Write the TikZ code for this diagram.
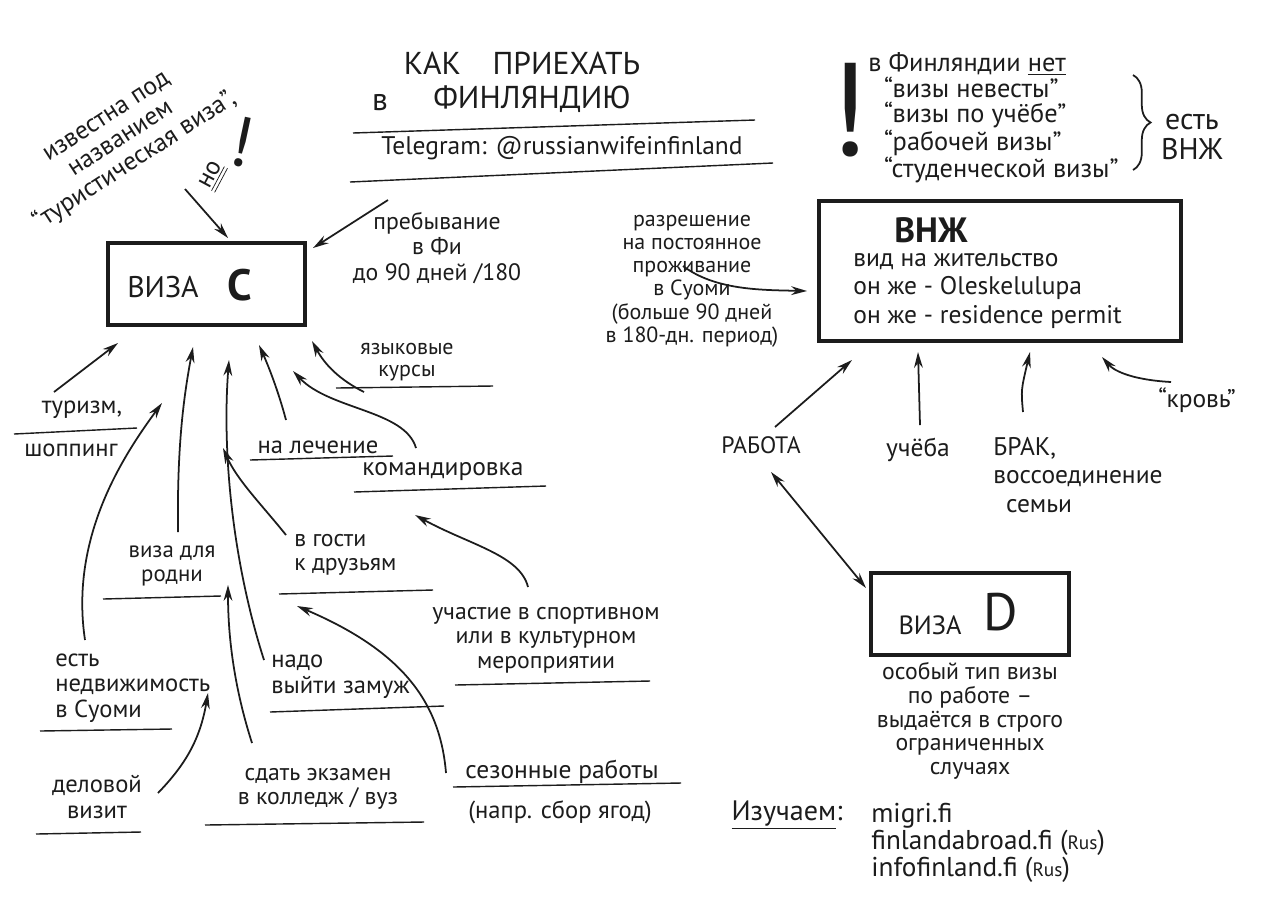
\documentclass[tikz,border=0pt]{standalone}
\usepackage{fontspec}
\setmainfont{PT Sans}
\usetikzlibrary{arrows.meta,decorations.pathreplacing}
\definecolor{ink}{RGB}{28,28,28}
\newcommand\fhand{\fontsize{14}{15.5}\selectfont}
\newcommand\fmid{\fontsize{14.5}{16}\selectfont}
\newcommand\ftop{\fontsize{15}{14.5}\selectfont}
\newcommand\ftitle{\fontsize{18}{20}\selectfont}
\newcommand\fvbox{\fontsize{17}{17}\selectfont}
\newcommand\fbig{\fontsize{25}{25}\selectfont\bfseries}
\begin{document}
\begin{tikzpicture}[x=0.02cm,y=-0.02cm,
  txt/.style={inner sep=0pt, align=center, font=\fhand, text=ink},
  ul/.style={line width=0.8pt, draw=ink},
  arr/.style={line width=1pt, draw=ink, -{Stealth[length=9pt,width=5pt]}},
  dbl/.style={line width=1pt, draw=ink, {Stealth[length=9pt,width=5pt]}-{Stealth[length=9pt,width=5pt]}},
  boxs/.style={draw=ink, line width=2.6pt, inner sep=0pt}]
\useasboundingbox (0,0) rectangle (1280,904);
\fill[white] (0,0) rectangle (1280,904);

% ---------- title ----------
\node[txt,font=\ftitle] (title1) at (522,63) {КАК\quad ПРИЕХАТЬ};
\node[txt,font=\ftitle] (title2a) at (380,103) {в};
\node[txt,font=\ftitle] (title2b) at (532,99) {ФИНЛЯНДИЮ};
\draw[ul] (353,133) -- (755,120);
\node[txt,font=\fmid] (tg) at (562,148) {Telegram: @russianwifeinfinland};
\draw[ul] (350,182) -- (773,163);

% ---------- rotated note ----------
\node[txt,font=\fontsize{14.5}{15}\selectfont,rotate=33] (known) at (122,141)
  {известна под\\названием\\“туристическая виза”,};
\node[txt,font=\fmid,rotate=62] (no) at (213,176) {\underline{\underline{но}}};
\node[txt,font=\fontsize{40}{40}\selectfont,rotate=-12] (noex) at (242,142) {!};
\coordinate (knT) at (185,189);
\coordinate (knH) at (228,238);
\draw[arr] (knT) -- (knH);

% ---------- Visa C ----------
\node[boxs, minimum width=3.94cm, minimum height=1.64cm] (vizaC) at (206.5,284) {};
\node[txt,font=\fvbox] (vizaCt) at (163,287) {ВИЗА};
\node[txt,font=\fbig] (vizaCc) at (240,285) {C};

\node[txt,font=\fontsize{13.5}{14.5}\selectfont] (stay) at (437,248) {пребывание\\в Фи\\до 90 дней /180};
\coordinate (stayT) at (388,200);
\coordinate (stayH) at (313,248);
\draw[arr] (stayT) -- (stayH);

% ---------- VNZh ----------
\node[boxs, minimum width=7.24cm, minimum height=2.8cm] (vnzh) at (1000,271) {};
\node[txt,font=\fontsize{20}{20}\selectfont\bfseries] (vnzhT) at (931,230) {ВНЖ};
\node[txt,font=\fmid,align=left,anchor=west] (vnzhL) at (853,291)
  {вид на жительство\\он же - Oleskelulupa\\он же - residence permit};

\node[txt,font=\fontsize{12.5}{13.2}\selectfont] (perm) at (692,281)
  {разрешение\\на постоянное\\проживание\\в Суоми\\(больше 90 дней\\в 180-дн. период)};
\coordinate (permT) at (683,266);
\coordinate (permH) at (807,291);
\draw[arr] (permT) .. controls (715,290) and (760,290) .. (permH);

% ---------- "no such visas" ----------
\node[txt,font=\fontsize{75}{75}\selectfont] (excl) at (849,110) {!};
\node[txt,font=\ftop,align=left,anchor=west] (noviz) at (868,118)
  {в Финляндии \underline{нет}\\\hspace*{0.6em}“визы невесты”\\\hspace*{0.6em}“визы по учёбе”\\\hspace*{0.6em}“рабочей визы”\\\hspace*{0.6em}“студенческой визы”};
\draw[line width=1pt, draw=ink, decorate, decoration={brace, amplitude=10pt}] (1133,75) -- (1133,170);
\node[txt,font=\fontsize{17}{17}\selectfont] (est) at (1192,137) {есть\\ВНЖ};

% ---------- VNZh sources ----------
\node[txt,font=\fontsize{13.5}{14}\selectfont] (rabota) at (761,445) {РАБОТА};
\node[txt,font=\fmid] (ucheba) at (918,450) {учёба};
\node[txt,font=\fmid,align=left,anchor=west] (brak) at (993,475) {БРАК,\\воссоединение\\\hspace*{0.5em}семьи};
\node[txt,font=\fmid] (krov) at (1197,400) {“кровь”};
\coordinate (rabT) at (775,427);
\coordinate (rabH) at (852,360);
\coordinate (uchT) at (920,425);
\coordinate (uchH) at (918,352);
\coordinate (brT) at (1023,412);
\coordinate (brH) at (1030,352);
\coordinate (krT) at (1171,382);
\coordinate (krH) at (1102,357);
\draw[arr] (rabT) -- (rabH);
\draw[arr] (uchT) -- (uchH);
\draw[arr] (brT) .. controls (1021,390) .. (brH);
\draw[arr] (krT) .. controls (1135,380) and (1115,372) .. (krH);

% ---------- Visa D ----------
\node[boxs, minimum width=3.96cm, minimum height=1.64cm] (vizaD) at (970,614) {};
\node[txt,font=\fontsize{15}{15}\selectfont] (vizaDt) at (930,625) {ВИЗА};
\node[txt,font=\fontsize{30}{30}\selectfont] (vizaDd) at (1001,612) {D};
\coordinate (dA) at (771,472);
\coordinate (dB) at (866,588);
\draw[dbl] (dA) -- (dB);
\node[txt,font=\fontsize{13.5}{13.5}\selectfont] (descD) at (970,721)
  {особый тип визы\\по работе –\\выдаётся в строго\\ограниченных\\случаях};

\node[txt,font=\fontsize{16}{16}\selectfont] (izuch) at (787,815) {\underline{Изучаем}:};
\node[txt,font=\fontsize{15.5}{15.5}\selectfont,align=left,anchor=west] (links) at (871,843)
  {migri.fi\\finlandabroad.fi ({\fontsize{11}{11}\selectfont Rus})\\infofinland.fi ({\fontsize{11}{11}\selectfont Rus})};

% ---------- Visa C purposes ----------
\node[txt] (tur1) at (82,410) {туризм,};
\node[txt] (tur2) at (71,450) {шоппинг};
\draw[ul] (14,434) -- (137,428);
\node[txt,font=\fontsize{12.5}{12.5}\selectfont] (yaz) at (407,362) {языковые\\курсы};
\draw[ul] (336,388) -- (493,386);
\node[txt] (lech) at (318,447) {на лечение};
\draw[ul] (250,460) -- (393,456);
\node[txt,font=\fmid] (komm) at (443,472) {командировка};
\draw[ul] (354,492) -- (546,486);
\node[txt,font=\fontsize{13}{13.5}\selectfont] (rodni) at (172,566) {виза для\\родни};
\draw[ul] (103,599) -- (221,596);
\node[txt,font=\fontsize{13.5}{14}\selectfont,align=left,anchor=west] (gosti) at (294,555) {в гости\\к друзьям};
\draw[ul] (279,594) -- (433,590);
\node[txt,font=\fontsize{13.5}{14}\selectfont] (uchast) at (546,640) {участие в спортивном\\или в культурном\\мероприятии};
\draw[ul] (455,685) -- (650,681);
\node[txt,font=\fontsize{14}{14.5}\selectfont,align=left,anchor=west] (nedv) at (55,688) {есть\\недвижимость\\в Суоми};
\draw[ul] (40,731) -- (172,729);
\node[txt,font=\fontsize{14}{15}\selectfont,align=left,anchor=west] (zamuzh) at (271,677) {надо\\выйти замуж};
\draw[ul] (270,712) -- (444,706);
\node[txt,font=\fontsize{14}{15}\selectfont] (delov) at (97,797) {деловой\\визит};
\draw[ul] (36,834) -- (141,832);
\node[txt,font=\fontsize{13.5}{13.5}\selectfont] (ekz) at (318,789) {сдать экзамен\\в колледж / вуз};
\draw[ul] (205,825) -- (424,822);
\node[txt,font=\fmid] (sez1) at (562,772) {сезонные работы};
\draw[ul] (453,787) -- (681,783);
\node[txt] (sez2) at (560,812) {(напр. сбор ягод)};

\coordinate (turT) at (54,392);   \coordinate (turH) at (118,343);
\coordinate (nedT) at (85,640);   \coordinate (nedH) at (162,403);
\coordinate (rodT) at (178,532);  \coordinate (rodH) at (193,347);
\coordinate (zamT) at (264,660);  \coordinate (zamH) at (229,360);
\coordinate (gosT) at (286,535);  \coordinate (gosH) at (223,448);
\coordinate (lecT) at (286,420);  \coordinate (lecH) at (259,345);
\coordinate (komT) at (416,448);  \coordinate (komH) at (293,371);
\coordinate (yazT) at (364,392);  \coordinate (yazH) at (312,341);
\coordinate (uchsT) at (528,587); \coordinate (uchsH) at (415,515);
\coordinate (sezT) at (446,773);  \coordinate (sezH) at (297,606);
\coordinate (ekzT) at (252,743);  \coordinate (ekzH) at (228,585);
\coordinate (delT) at (158,793);  \coordinate (delH) at (208,693);

\draw[arr] (turT) -- (turH);
\draw[arr] (nedT) .. controls (70,540) and (120,460) .. (nedH);
\draw[arr] (rodT) .. controls (177,450) and (183,400) .. (rodH);
\draw[arr] (zamT) .. controls (232,560) and (222,450) .. (zamH);
\draw[arr] (gosT) .. controls (262,505) and (237,480) .. (gosH);
\draw[arr] (lecT) .. controls (278,390) and (268,365) .. (lecH);
\draw[arr] (komT) .. controls (405,410) and (330,410) .. (komH);
\draw[arr] (yazT) .. controls (340,380) and (325,365) .. (yazH);
\draw[arr] (uchsT) .. controls (520,555) and (470,545) .. (uchsH);
\draw[arr] (sezT) .. controls (440,700) and (400,650) .. (sezH);
\draw[arr] (ekzT) .. controls (235,690) and (228,640) .. (ekzH);
\draw[arr] (delT) .. controls (185,765) and (200,740) .. (delH);
\end{tikzpicture}
\end{document}
